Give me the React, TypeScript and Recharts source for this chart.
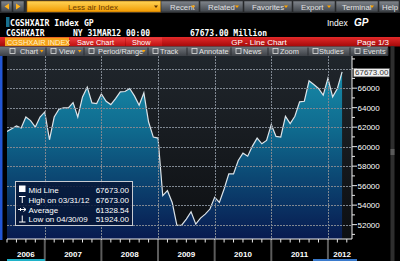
import { Area, AreaChart, XAxis, YAxis } from "recharts";

// months counted from Jan 2006; first point is end of Apr 2006
const firstMonth = 4;

// CGSHXAIR index, monthly, Apr 2006 .. Mar 2012
const indexValues = [
  61567, 61845, 62115, 61910, 63041, 62670, 62013, 63041, 63560,
  60707, 63041, 63835, 63973, 63973, 64522, 63041, 65107, 66103, 64488, 64419, 65416,
  64660, 64316, 64935, 65622, 65656, 65966, 65210, 64247, 65519, 62530, 60983, 60880,
  54968, 55484, 54278, 51924, 51950, 52566, 53319, 52050, 52670, 53080, 53600, 54800,
  54280, 55660, 57203, 57203, 58577, 59333, 59024, 60055, 60880, 60296, 60639, 62257,
  61051, 60983, 63113, 62360, 63113, 64590, 64660, 66757, 66380, 65966, 65278, 67000,
  65107, 65966, 67673,
];

const yearLabels = ["2006", "2007", "2008", "2009", "2010", "2011", "2012"];
const yearLabelAt = [8, 18, 30, 42, 54, 66, 75];
const yearStarts = [12, 24, 36, 48, 60, 72];
const monthTicks = [
  4, 6, 8, 10, 12, 14, 16, 18, 20, 22, 24, 26, 28, 30, 32, 34, 36, 38, 40, 42,
  44, 46, 48, 50, 52, 54, 56, 58, 60, 62, 64, 66, 68, 70, 72, 74, 75, 76,
];
const valueTicks = [
  51000, 52000, 53000, 54000, 55000, 56000, 57000, 58000, 59000, 60000,
  61000, 62000, 63000, 64000, 65000, 66000, 67000, 68000, 69000,
];
const gridValues = [52000, 54000, 56000, 58000, 60000, 62000, 64000, 66000, 68000];

const midLine = 67673.0;
const legendRows = [
  { label: "Mid Line", value: 67673.0 },
  { label: "High on 03/31/12", value: 67673.0 },
  { label: "Average", value: 61328.54 },
  { label: "Low on 04/30/09", value: 51924.0 },
];

const data = indexValues.map((v, i) => ({ t: firstMonth + i, v }));

const ui = "'Liberation Sans', Arial, sans-serif";
const mono = "'DejaVu Sans Mono', monospace";
const gridStroke = "#7f8791";

// plot rectangle (page coords) and axis domains, shared by the chart and the grid overlay
const plot = { left: 7, top: 56, width: 345, height: 183 };
const xDomain: [number, number] = [4, 77.1];
const yDomain: [number, number] = [50526, 69300];
const gx = (t: number) => plot.left + ((t - xDomain[0]) / (xDomain[1] - xDomain[0])) * plot.width;
const gy = (v: number) => plot.top + ((yDomain[1] - v) / (yDomain[1] - yDomain[0])) * plot.height;

function MonthTick(props: any) {
  const { x, y, payload } = props;
  const t = payload.value;
  const li = yearLabelAt.indexOf(t);
  return (
    <g>
      {t % 2 === 0 && <line x1={x} x2={x} y1={y} y2={y + 3.5} stroke="#e8e8e8" />}
      {t % 12 === 0 && (
        <line x1={x} x2={x} y1={y + 1} y2={y + 22} stroke="#5c5c5c" strokeWidth={2} />
      )}
      {li >= 0 && (
        <text x={x} y={y + 18} textAnchor="middle" fill="#ffffff" fontSize={8} fontWeight="bold" fontFamily={ui}>
          {yearLabels[li]}
        </text>
      )}
    </g>
  );
}

function ValueTick(props: any) {
  const { x, y, payload } = props;
  const v = payload.value;
  if (v === midLine) {
    return (
      <g>
        <rect x={x + 1.5} y={y - 3.5} width={36} height={8.5} fill="#f0f0f0" stroke="#444" strokeWidth={0.6} />
        <text x={x + 3} y={y + 3.5} fill="#333" fontSize={8} fontFamily={ui}>
          {v.toFixed(2)}
        </text>
      </g>
    );
  }
  const major = v % 2000 === 0;
  return (
    <g>
      <line x1={x} x2={x + (major ? 5 : 3)} y1={y} y2={y} stroke="#e8e8e8" />
      {major && v < 68000 && (
        <text x={x + 5.5} y={y + 3} fill="#ffffff" fontSize={8} fontFamily={ui}>
          {String(v)}
        </text>
      )}
    </g>
  );
}

const topButtons = [
  { label: "Recent", x: 161, w: 39, tx: 9 },
  { label: "Related", x: 200, w: 44, tx: 8 },
  { label: "Favorites", x: 244, w: 49, tx: 8 },
  { label: "Export", x: 293, w: 43, tx: 8 },
  { label: "Terminal", x: 336, w: 43, tx: 6 },
  { label: "Help", x: 379, w: 21, tx: 3, noArrow: true },
];

const toolItems = [
  { label: "Chart", x: 5, w: 41, tx: 15 },
  { label: "View", x: 46, w: 38, tx: 13 },
  { label: "Period/Range", x: 84, w: 64, tx: 14 },
  { label: "Track", x: 148, w: 39, tx: 12, noArrow: true },
  { label: "Annotate", x: 187, w: 44, tx: 12, noArrow: true },
  { label: "News", x: 231, w: 37, tx: 12, noArrow: true },
  { label: "Zoom", x: 268, w: 40, tx: 12, noArrow: true },
  { label: "Studies", x: 308, w: 42, tx: 11, noArrow: true },
  { label: "Events", x: 350, w: 38, tx: 13, noArrow: true },
];

function Header() {
  return (
    <svg width={400} height={56} style={{ position: "absolute", left: 0, top: 0 }}>
      <defs>
        <linearGradient id="gBar" x1="0" y1="0" x2="0" y2="1">
          <stop offset="0" stopColor="#80858c" />
          <stop offset="1" stopColor="#40454b" />
        </linearGradient>
        <linearGradient id="gOrange" x1="0" y1="0" x2="0" y2="1">
          <stop offset="0" stopColor="#ffd457" />
          <stop offset="1" stopColor="#f29a00" />
        </linearGradient>
        <linearGradient id="gRed" x1="0" y1="0" x2="0" y2="1">
          <stop offset="0" stopColor="#e42a2a" />
          <stop offset="1" stopColor="#a30909" />
        </linearGradient>
        <linearGradient id="gRedBtn" x1="0" y1="0" x2="0" y2="1">
          <stop offset="0" stopColor="#f04040" />
          <stop offset="1" stopColor="#c01010" />
        </linearGradient>
        <linearGradient id="gTool" x1="0" y1="0" x2="0" y2="1">
          <stop offset="0" stopColor="#73777d" />
          <stop offset="1" stopColor="#3c4046" />
        </linearGradient>
      </defs>
      <rect x={0} y={0} width={400} height={56} fill="#000" />
      {/* top bar */}
      <rect x={0} y={0} width={400} height={13} fill="#2c2f33" />
      <rect x={1} y={1} width={11} height={11} fill="url(#gBar)" stroke="#222" strokeWidth={0.5} />
      <rect x={13} y={1} width={11} height={11} fill="url(#gBar)" stroke="#222" strokeWidth={0.5} />
      <path d="M9 3.5 L4.5 6.5 L9 9.5 Z" fill="#ffb21c" />
      <path d="M16 3.5 L20.5 6.5 L16 9.5 Z" fill="#ffb21c" />
      <rect x={27} y={1} width={134} height={11} fill="url(#gOrange)" stroke="#9a5a00" strokeWidth={0.6} />
      <text x={93} y={9.5} textAnchor="middle" fill="#6a3c00" fontSize={8} fontFamily={ui}>
        Less air Index
      </text>
      <path d="M154 5.5 L158 5.5 L156 8 Z" fill="#5a3000" />
      {topButtons.map((b) => (
        <g key={b.label}>
          <rect x={b.x} y={1} width={b.w - 1} height={11} fill="url(#gBar)" stroke="#222" strokeWidth={0.5} />
          <text x={b.x + b.tx} y={9.5} fill="#e2e2e2" fontSize={7.8} fontFamily={ui}>
            {b.label}
          </text>
          {!b.noArrow && <path d={`M${b.x + b.w - 9} 5.5 L${b.x + b.w - 5} 5.5 L${b.x + b.w - 7} 8 Z`} fill="#ffa500" />}
        </g>
      ))}
      {/* command rows */}
      <rect x={6} y={17} width={3.5} height={10} fill="#17708e" />
      <text x={10} y={26} fill="#ffffff" fontSize={8.2} fontWeight="bold" fontFamily={mono}>
        CGSHXAIR Index GP
      </text>
      <text x={327} y={25.5} fill="#ffffff" fontSize={8.5} fontFamily={ui}>
        Index
      </text>
      <text x={354} y={25.5} fill="#ffffff" fontSize={10} fontWeight="bold" fontStyle="italic" fontFamily={ui}>
        GP
      </text>
      <text x={6} y={35.5} fill="#ffffff" fontSize={8} fontWeight="bold" fontFamily={mono}>
        CGSHXAIR
      </text>
      <text x={73} y={35.5} fill="#ffffff" fontSize={8} fontWeight="bold" fontFamily={mono}>
        NY 31MAR12 00:00
      </text>
      <text x={190} y={35.5} fill="#ffffff" fontSize={8} fontWeight="bold" fontFamily={mono}>
        67673.00 Million
      </text>
      {/* red bar */}
      <rect x={0} y={37} width={400} height={9.5} fill="url(#gRed)" />
      <rect x={5} y={37.5} width={64} height={8.5} fill="#f5a21a" />
      <text x={7} y={44.7} fill="#fff0c8" fontSize={7.4} fontFamily={ui}>
        CGSHXAIR INDEX
      </text>
      <rect x={70} y={37.5} width={55} height={8.5} fill="url(#gRedBtn)" />
      <rect x={126} y={37.5} width={36} height={8.5} fill="url(#gRedBtn)" />
      <text x={77} y={44.7} fill="#ffffff" fontSize={7.4} fontFamily={ui}>
        Save Chart
      </text>
      <text x={132} y={44.7} fill="#ffffff" fontSize={7.4} fontFamily={ui}>
        Show
      </text>
      <text x={259} y={44.8} textAnchor="middle" fill="#ffffff" fontSize={8} fontFamily={ui}>
        GP - Line Chart
      </text>
      <text x={357} y={44.8} fill="#ffffff" fontSize={8} fontFamily={ui}>
        Page 1/3
      </text>
      {/* toolbar */}
      <rect x={0} y={46.5} width={388} height={9.5} fill="url(#gTool)" />
      {toolItems.map((b) => (
        <g key={b.label}>
          <line x1={b.x + b.w} x2={b.x + b.w} y1={47.5} y2={55.5} stroke="#2a2d31" />
          <rect x={b.x + 5} y={48.5} width={5} height={5} fill="none" stroke="#e0e0e0" strokeWidth={0.8} />
          <text x={b.x + b.tx} y={54} fill="#e4e4e4" fontSize={7.4} fontFamily={ui}>
            {b.label}
          </text>
          {!b.noArrow && <path d={`M${b.x + b.w - 6} 50 L${b.x + b.w - 2.5} 50 L${b.x + b.w - 4.2} 52.5 Z`} fill="#ffa500" />}
        </g>
      ))}
    </svg>
  );
}

function Overlay() {
  const icons = [
    <rect key="a" x={19} y={185.5} width={6.5} height={6.5} fill="#ffffff" />,
    <path key="b" d="M19 196.5 H25.5 M22.25 196.5 V203" stroke="#ffffff" strokeWidth={1} fill="none" />,
    <path key="c" d="M18 209.5 H26 M23.5 207.5 L26 209.5 L23.5 211.5 M20.5 208 V211" stroke="#ffffff" strokeWidth={1} fill="none" />,
    <path key="d" d="M22.25 215.5 V222 M19 222 H25.5" stroke="#ffffff" strokeWidth={1} fill="none" />,
  ];
  const baselines = [192.5, 202.5, 212.5, 222];
  return (
    <svg width={400} height={261} style={{ position: "absolute", left: 0, top: 0, pointerEvents: "none" }}>
      {/* grid over the plot */}
      {yearStarts.map((t) => {
        const x = Math.round(gx(t)) + 0.5;
        return (
          <line
            key={`gx${t}`}
            x1={x}
            x2={x}
            y1={plot.top}
            y2={plot.top + plot.height}
            stroke={gridStroke}
            strokeWidth={1}
            strokeDasharray="2 1"
          />
        );
      })}
      {gridValues.map((v) => {
        const y = Math.round(gy(v)) + 0.5;
        return (
          <line
            key={`gy${v}`}
            x1={plot.left}
            x2={plot.left + plot.width}
            y1={y}
            y2={y}
            stroke={gridStroke}
            strokeWidth={1}
            strokeDasharray="2 1"
          />
        );
      })}
      <rect x={0} y={56} width={2.5} height={184} fill="#2256d4" />
      <rect x={390.5} y={46} width={4} height={215} fill="#2e2e2e" />
      <rect x={390.5} y={149} width={4} height={6} fill="#5a5a5a" />
      <rect x={7} y={259} width={38} height={2} fill="#1fb2c8" />
      <rect x={313} y={259} width={44} height={2} fill="#3a7acc" />
      <rect x={15.5} y={181.5} width={117} height={44} fill="#071636" fillOpacity={0.85} stroke="#c8ccd2" strokeWidth={1} />
      {legendRows.map((r, i) => (
        <g key={r.label}>
          {icons[i]}
          <text x={28.5} y={baselines[i]} fill="#ffffff" fontSize={8} fontFamily={ui}>
            {r.label}
          </text>
          <text x={129} y={baselines[i]} textAnchor="end" fill="#ffffff" fontSize={8} fontFamily={ui}>
            {r.value.toFixed(2)}
          </text>
        </g>
      ))}
    </svg>
  );
}

export default function App() {
  return (
    <div
      style={{
        position: "fixed",
        left: 0,
        top: 0,
        width: 400,
        height: 261,
        background: "#000",
        overflow: "hidden",
        fontFamily: ui,
      }}
    >
      <Header />
      <div
        style={{
          position: "absolute",
          left: plot.left,
          top: plot.top,
          width: plot.width,
          height: plot.height,
          background: "linear-gradient(#20262c, #0d0f12)",
        }}
      />
      <div style={{ position: "absolute", left: 0, top: plot.top }}>
        <AreaChart width={400} height={205} data={data} margin={{ top: 0, right: 8, bottom: 0, left: plot.left }}>
          <defs>
            <linearGradient id="areaFill" x1="0" y1="0" x2="0" y2="1">
              <stop offset="0" stopColor="#178aa8" />
              <stop offset="0.35" stopColor="#0f6a8e" />
              <stop offset="1" stopColor="#081a50" />
            </linearGradient>
          </defs>
          <Area
            xAxisId="m"
            yAxisId="v"
            type="linear"
            dataKey="v"
            stroke="#dde4e9"
            strokeWidth={1.2}
            fill="url(#areaFill)"
            fillOpacity={1}
            dot={false}
            activeDot={false}
            isAnimationActive={false}
          />
          <XAxis
            xAxisId="m"
            type="number"
            dataKey="t"
            domain={xDomain}
            ticks={monthTicks}
            interval={0}
            tickSize={0}
            tickMargin={0}
            height={22}
            allowDataOverflow
            axisLine={{ stroke: "#f0f0f0" }}
            tickLine={false}
            tick={(p: any) => <MonthTick {...p} />}
          />
          <YAxis
            yAxisId="v"
            orientation="right"
            type="number"
            domain={yDomain}
            ticks={[...valueTicks, midLine]}
            interval={0}
            tickSize={0}
            tickMargin={0}
            width={40}
            allowDataOverflow
            axisLine={{ stroke: "#f0f0f0" }}
            tickLine={false}
            tick={(p: any) => <ValueTick {...p} />}
          />
        </AreaChart>
      </div>
      <Overlay />
    </div>
  );
}
